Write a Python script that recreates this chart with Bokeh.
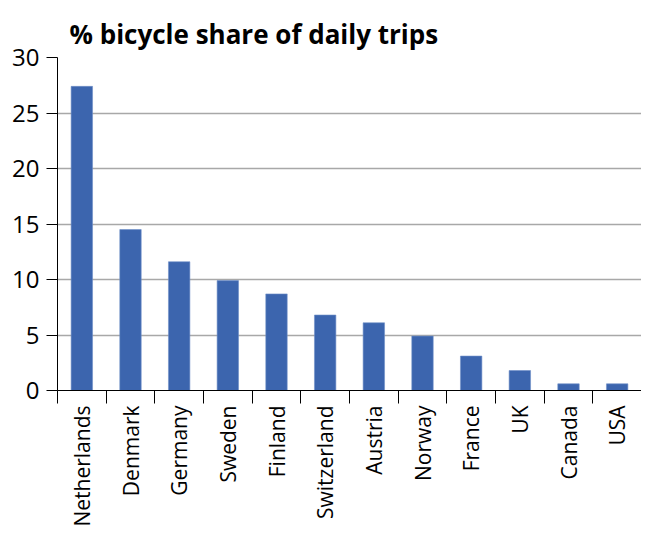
from bokeh.plotting import figure
from bokeh.models import Range1d, FixedTicker, ColumnDataSource
from bokeh.embed import file_html
from bokeh.resources import INLINE
import math

countries = ["Netherlands", "Denmark", "Germany", "Sweden", "Finland", "Switzerland",
             "Austria", "Norway", "France", "UK", "Canada", "USA"]
shares = [27.4, 14.5, 11.6, 9.9, 8.7, 6.8, 6.1, 4.9, 3.1, 1.8, 0.6, 0.6]
y_ticks = [0, 5, 10, 15, 20, 25, 30]

xs = [i + 0.5 for i in range(len(countries))]
src = ColumnDataSource(dict(x=xs, top=shares))

p = figure(width=641, height=529, output_backend="svg", toolbar_location=None,
           x_range=Range1d(0, len(countries)), y_range=Range1d(0, 30),
           title="% bicycle share of daily trips",
           min_border_left=57, min_border_right=0, min_border_top=57)

p.vbar(x="x", top="top", width=0.44, bottom=0, source=src,
       fill_color="#3c65ae", line_color="#6f8fc8", line_width=0.6)

p.title.text_font = "Open Sans"
p.title.text_font_style = "bold"
p.title.text_font_size = "26px"
p.title.text_color = "black"
p.title.align = "left"
p.title.offset = 12
p.title.standoff = 12

p.outline_line_color = None
p.xgrid.grid_line_color = None
p.ygrid.ticker = FixedTicker(ticks=y_ticks)
p.ygrid.grid_line_color = "#a8a8a8"
p.ygrid.grid_line_width = 1.5

xa = p.xaxis[0]
xa.ticker = FixedTicker(ticks=xs, minor_ticks=list(range(len(countries) + 1)))
xa.major_label_overrides = {x: c for x, c in zip(xs, countries)}
xa.major_label_orientation = math.pi / 2
xa.major_tick_out = 0
xa.major_tick_in = 0
xa.minor_tick_out = 13
xa.minor_tick_in = 0
xa.minor_tick_line_color = "black"
xa.axis_line_color = "black"
xa.major_label_text_font = "Open Sans"
xa.major_label_text_font_size = "21px"
xa.major_label_text_color = "black"
xa.major_label_standoff = 2

ya = p.yaxis[0]
ya.ticker = FixedTicker(ticks=y_ticks)
ya.major_tick_out = 11
ya.major_tick_in = 0
ya.minor_tick_out = 0
ya.minor_tick_in = 0
ya.axis_line_color = "black"
ya.major_tick_line_color = "black"
ya.major_label_text_font = "Open Sans"
ya.major_label_text_font_size = "24px"
ya.major_label_text_color = "black"
ya.major_label_standoff = 7

open("out.html", "w").write(file_html(p, INLINE))
